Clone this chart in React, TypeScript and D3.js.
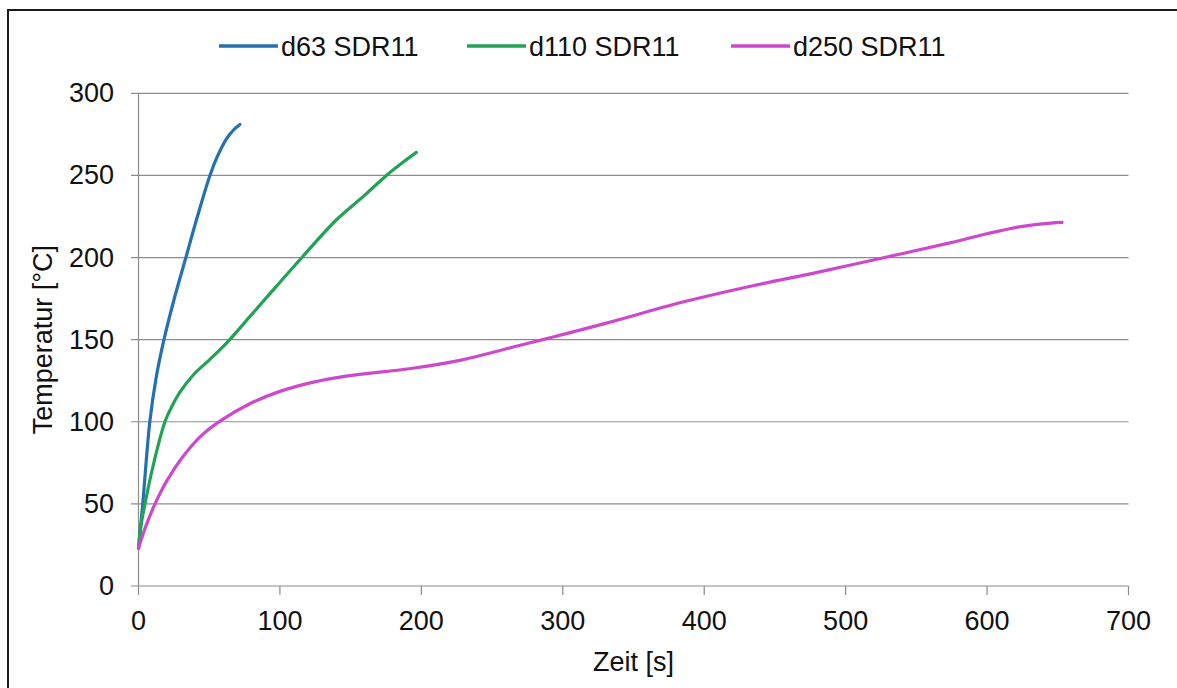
import React from "react";
import * as d3 from "d3";

// Heating curves: temperature over time for three pipe dimensions
const seriesNames = ["d63 SDR11", "d110 SDR11", "d250 SDR11"];
const seriesColors = ["#2470B0", "#22A255", "#CC48CC"];

const d63Time = [0, 3, 8, 12.5, 18, 25, 33.5, 41, 50.5, 56, 62, 67, 71.7];
const d63Temp = [23, 50, 100, 127, 150, 174, 200, 223, 250, 262, 272, 277.5, 281];

const d110Time = [0, 2, 4.6, 10, 18.7, 24, 29.3, 38.7, 50.5, 63.4, 78.7, 97, 116, 140, 160, 175.3, 187, 196.5];
const d110Temp = [23, 38, 50, 72, 100, 110, 118, 128.5, 138, 149, 164, 182, 200.5, 223, 238, 250, 258, 264];

const d250Time = [0, 5, 11.7, 20, 31.6, 45, 58.7, 78.7, 100, 123, 147, 194, 229, 265, 288, 335, 382, 432, 480, 526, 573, 600, 625, 645, 653];
const d250Temp = [23, 36, 50, 64, 79, 92, 101, 111, 118.5, 124, 127.8, 132.6, 137.7, 145.5, 150.5, 161, 172.3, 182.4, 191, 199.7, 208.8, 214.5, 219, 221, 221.4];

const xTicks = [0, 100, 200, 300, 400, 500, 600, 700];
const yTicks = [0, 50, 100, 150, 200, 250, 300];

const xTitle = "Zeit [s]";
const yTitle = "Temperatur [°C]";

const W = 1177;
const H = 688;
const FONT = "'Liberation Sans', Arial, sans-serif";

export default function App() {
  const x = d3.scaleLinear().domain([0, 700]).range([138.5, 1128.5]);
  const y = d3.scaleLinear().domain([0, 300]).range([586, 93.3]);

  const series = [
    d63Time.map((t, i) => [t, d63Temp[i]] as [number, number]),
    d110Time.map((t, i) => [t, d110Temp[i]] as [number, number]),
    d250Time.map((t, i) => [t, d250Temp[i]] as [number, number]),
  ];

  const line = d3
    .line<[number, number]>()
    .x((d) => x(d[0]))
    .y((d) => y(d[1]))
    .curve(d3.curveCatmullRom.alpha(0.5));

  const gridColor = "#8C8C8C";
  const legendX = [219, 467, 731];
  const legendLineLen = 59;

  return (
    <svg
      width={W}
      height={H}
      style={{ position: "absolute", left: 0, top: 0, background: "#fff" }}
      fontFamily={FONT}
    >
      <rect x={0} y={0} width={W} height={H} fill="#fff" />
      {/* outer frame */}
      <rect x={8} y={10} width={1300} height={800} fill="none" stroke="#1a1a1a" strokeWidth={2} />

      {/* horizontal gridlines and y ticks */}
      {yTicks.map((v) => (
        <g key={"y" + v}>
          <line x1={131} x2={x(700)} y1={y(v)} y2={y(v)} stroke={gridColor} strokeWidth={1.2} />
          <text
            x={114}
            y={y(v)}
            textAnchor="end"
            dominantBaseline="central"
            fontSize={27}
            fill="#111"
          >
            {v}
          </text>
        </g>
      ))}

      {/* vertical axis line */}
      <line x1={x(0)} x2={x(0)} y1={y(300)} y2={y(0)} stroke={gridColor} strokeWidth={1.2} />

      {/* x ticks */}
      {xTicks.map((v) => (
        <g key={"x" + v}>
          <line x1={x(v)} x2={x(v)} y1={y(0)} y2={y(0) + 9} stroke={gridColor} strokeWidth={1.2} />
          <text x={x(v)} y={630} textAnchor="middle" fontSize={27} fill="#111">
            {v}
          </text>
        </g>
      ))}

      {/* axis titles */}
      <text x={(x(0) + x(700)) / 2} y={671} textAnchor="middle" fontSize={27} fill="#111">
        {xTitle}
      </text>
      <text
        transform={`translate(52, ${(y(0) + y(300)) / 2}) rotate(-90)`}
        textAnchor="middle"
        fontSize={27}
        fill="#111"
      >
        {yTitle}
      </text>

      {/* curves */}
      {series.map((s, i) => (
        <path
          key={"s" + i}
          d={line(s) || ""}
          fill="none"
          stroke={seriesColors[i]}
          strokeWidth={3.2}
          strokeLinecap="round"
          strokeLinejoin="round"
        />
      ))}

      {/* legend */}
      {seriesNames.map((name, i) => (
        <g key={"l" + i}>
          <line
            x1={legendX[i]}
            x2={legendX[i] + legendLineLen}
            y1={46}
            y2={46}
            stroke={seriesColors[i]}
            strokeWidth={3.5}
          />
          <text x={legendX[i] + legendLineLen + 3} y={56} fontSize={27} fill="#111">
            {name}
          </text>
        </g>
      ))}
    </svg>
  );
}
